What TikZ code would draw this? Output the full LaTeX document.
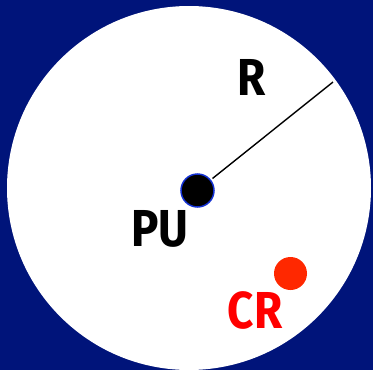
\documentclass[tikz,border=0pt]{standalone}
\usepackage{fontspec}
\setmainfont{Fira Sans}
\usepackage{tikz}
\usetikzlibrary{arrows.meta}

\definecolor{navybg}{RGB}{0,20,122}
\definecolor{pured}{RGB}{255,40,0}
\definecolor{ringblue}{RGB}{20,50,210}

\tikzset{
  biglabel/.style={font=\fontsize{52}{52}\bfseries\selectfont, inner sep=0pt, xscale=0.88},
  userdot/.style={circle, inner sep=0pt, minimum size=33pt}
}

\begin{document}
\begin{tikzpicture}[x=1pt, y=-1pt, thick]

  % --- Background and coverage disc ---
  \fill[navybg] (0,0) rectangle (373,370);
  \useasboundingbox (0,0) rectangle (373,370);
  \fill[white] (189,188) circle (182pt);

  % --- Primary user at the centre ---
  \node[userdot, fill=black, draw=ringblue, line width=1.5pt] (pu) at (197.5,190.5) {};
  \coordinate (rim) at (333,82);
  \draw[black, line width=1.4pt, shorten <=2pt] (pu) -- (rim);

  % --- Cognitive radio user ---
  \node[userdot, fill=pured] (cr) at (290.5,273.5) {};

  % --- Labels ---
  \node[biglabel, black] (rlab) at (252,77) {R};
  \node[biglabel, black] (pulab) at (160,229) {PU};
  \node[biglabel, red] (crlab) at (255,310) {CR};

\end{tikzpicture}
\end{document}
